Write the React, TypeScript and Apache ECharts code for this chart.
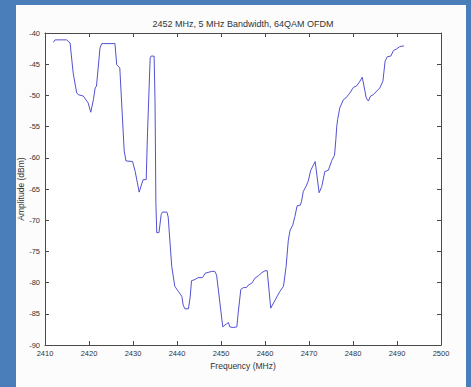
import React, { useEffect, useRef } from "react";
import * as echarts from "echarts";

const chartTitle = "2452 MHz, 5 MHz Bandwidth, 64QAM OFDM";
const xAxisName = "Frequency (MHz)";
const yAxisName = "Amplitude (dBm)";

const freqMHz = [
  2411.9, 2412.3, 2414.9, 2415.7, 2416.4, 2417.2, 2417.6, 2418.7, 2419.5, 2419.8,
  2420.4, 2421.0, 2421.4, 2421.7, 2422.5, 2422.9, 2425.9, 2426.3, 2427.0, 2428.0,
  2428.4, 2429.9, 2430.5, 2431.4, 2432.3, 2433.0, 2433.3, 2433.9, 2434.1, 2434.8,
  2435.0, 2435.2, 2435.4, 2435.9, 2436.4, 2436.7, 2437.7, 2438.0, 2438.8, 2439.5,
  2440.3, 2441.1, 2441.4, 2441.8, 2442.6, 2443.0, 2443.3, 2444.1, 2444.8, 2445.8,
  2446.4, 2447.9, 2448.6, 2449.0, 2450.4, 2450.9, 2451.3, 2451.7, 2452.0, 2452.8,
  2453.6, 2453.9, 2454.5, 2455.1, 2455.8, 2456.2, 2457.0, 2457.7, 2458.5, 2459.3,
  2460.0, 2460.5, 2461.3, 2462.3, 2463.4, 2464.2, 2464.8, 2465.3, 2465.7, 2466.3,
  2466.8, 2467.3, 2468.0, 2468.3, 2468.7, 2469.3, 2469.8, 2470.4, 2471.4, 2472.3,
  2472.9, 2473.6, 2474.4, 2475.2, 2475.8, 2476.1, 2476.3, 2476.5, 2477.0, 2477.8,
  2478.4, 2479.3, 2480.1, 2480.8, 2481.6, 2482.1, 2482.5, 2483.0, 2483.5, 2484.0,
  2484.6, 2485.4, 2486.1, 2486.8, 2487.3, 2487.8, 2488.6, 2489.2, 2489.8, 2490.6,
  2491.1, 2491.6,
];

const amplitudeDbm = [
  -41.5, -41.1, -41.1, -41.6, -46.4, -49.6, -49.9, -50.1, -50.9, -51.2,
  -52.7, -50.7, -48.8, -48.5, -42.4, -41.7, -41.7, -45.1, -45.6, -58.9,
  -60.5, -60.6, -62.2, -65.5, -63.5, -63.5, -56.0, -44.0, -43.7, -43.7,
  -50.7, -67.2, -72.0, -72.0, -69.1, -68.7, -68.7, -69.5, -77.4, -80.6,
  -81.4, -82.2, -83.6, -84.2, -84.2, -82.3, -79.7, -79.5, -79.2, -79.2,
  -78.5, -78.2, -78.2, -78.8, -87.1, -86.8, -86.6, -86.4, -87.1, -87.2,
  -87.1, -84.9, -81.1, -80.8, -80.8, -80.4, -80.1, -79.3, -78.9, -78.4,
  -78.1, -78.1, -84.1, -82.8, -81.4, -80.6, -77.4, -73.2, -71.6, -70.8,
  -69.4, -67.7, -67.6, -67.0, -65.4, -64.6, -63.8, -62.0, -60.6, -65.6,
  -64.6, -62.2, -62.0, -60.4, -59.6, -57.1, -55.0, -53.9, -52.0, -50.7,
  -50.4, -49.6, -48.7, -48.5, -47.7, -47.1, -48.5, -50.4, -50.9, -50.1,
  -49.9, -49.3, -48.8, -47.7, -44.5, -43.8, -43.7, -42.8, -42.6, -42.2,
  -42.1, -42.1,
];

const xMin = 2410;
const xMax = 2500;
const xStep = 10;
const yMin = -90;
const yMax = -40;
const yStep = 5;

const FONT = "'Liberation Sans', Arial, Helvetica, sans-serif";
const TEXT = "#333333";
const AXIS = "#4a4a4a";

export default function App() {
  const ref = useRef<HTMLDivElement>(null);

  useEffect(() => {
    if (!ref.current) return;
    const chart = echarts.init(ref.current, undefined, { renderer: "svg" });

    const tickCommon = {
      show: true,
      inside: true,
      length: 4,
      lineStyle: { color: AXIS, width: 1 },
    };
    const lineCommon = { show: true, onZero: false, lineStyle: { color: AXIS, width: 1 } };
    const plain = (v: number) => String(v);

    chart.setOption({
      animation: false,
      backgroundColor: "#4a7ebb",
      textStyle: { fontFamily: FONT },
      graphic: [
        {
          type: "rect",
          z: -100,
          shape: { x: 16, y: 5, width: 450, height: 382 },
          style: { fill: "#fcfcfc" },
        },
        {
          type: "text",
          x: 243,
          y: 24,
          style: {
            text: chartTitle,
            fill: TEXT,
            font: `9px ${FONT}`,
            textAlign: "center",
            textVerticalAlign: "middle",
          },
        },
        {
          type: "text",
          x: 21,
          y: 189,
          rotation: Math.PI / 2,
          style: {
            text: yAxisName,
            fill: TEXT,
            font: `8.5px ${FONT}`,
            textAlign: "center",
            textVerticalAlign: "middle",
          },
        },
      ],
      grid: {
        left: 45,
        right: 30,
        top: 33,
        bottom: 42,
        show: true,
        backgroundColor: "#ffffff",
        borderWidth: 0,
      },
      xAxis: [
        {
          type: "value",
          position: "bottom",
          min: xMin,
          max: xMax,
          interval: xStep,
          axisLine: lineCommon,
          axisTick: tickCommon,
          splitLine: { show: false },
          axisLabel: { color: TEXT, fontSize: 7.5, fontFamily: FONT, margin: 4, formatter: plain },
          name: xAxisName,
          nameLocation: "middle",
          nameGap: 16,
          nameTextStyle: { color: TEXT, fontSize: 8.5, fontFamily: FONT },
        },
        {
          type: "value",
          position: "top",
          min: xMin,
          max: xMax,
          interval: xStep,
          axisLine: lineCommon,
          axisTick: tickCommon,
          splitLine: { show: false },
          axisLabel: { show: false },
        },
      ],
      yAxis: [
        {
          type: "value",
          position: "left",
          min: yMin,
          max: yMax,
          interval: yStep,
          axisLine: lineCommon,
          axisTick: tickCommon,
          splitLine: { show: false },
          axisLabel: { color: TEXT, fontSize: 7.5, fontFamily: FONT, margin: 5, formatter: plain },
        },
        {
          type: "value",
          position: "right",
          min: yMin,
          max: yMax,
          interval: yStep,
          axisLine: lineCommon,
          axisTick: tickCommon,
          splitLine: { show: false },
          axisLabel: { show: false },
        },
      ],
      series: [
        {
          type: "line",
          xAxisIndex: 0,
          yAxisIndex: 0,
          data: freqMHz.map((f, i) => [f, amplitudeDbm[i]]),
          showSymbol: false,
          symbol: "none",
          lineStyle: { color: "#5252d2", width: 1 },
          silent: true,
        },
      ],
    });

    return () => chart.dispose();
  }, []);

  return (
    <div
      ref={ref}
      style={{ position: "absolute", left: 0, top: 0, width: 471, height: 387 }}
    />
  );
}
